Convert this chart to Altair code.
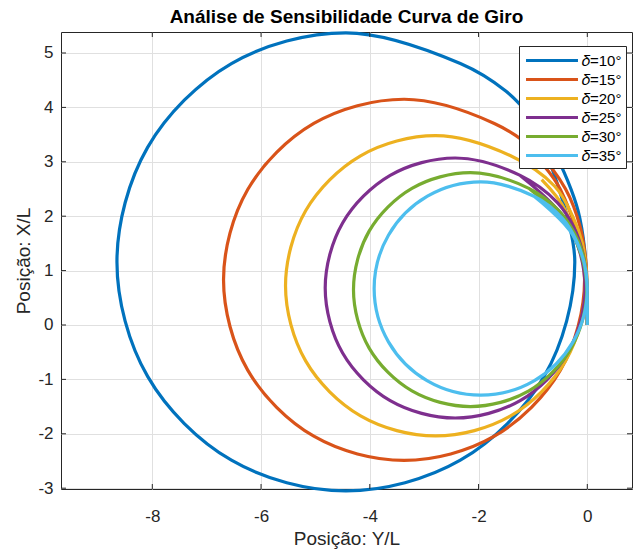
import altair as alt
import pandas as pd

# Legend entries and MATLAB default line colours
LABELS = ["𝛿=10°", "𝛿=15°", "𝛿=20°", "𝛿=25°", "𝛿=30°", "𝛿=35°"]
COLORS = ["#0072BD", "#D95319", "#EDB120", "#7E2F8E", "#77AC30", "#4DBEEE"]

X_TICKS = [-8, -6, -4, -2, 0]
Y_TICKS = [-3, -2, -1, 0, 1, 2, 3, 4, 5]

# Turning-circle trajectories: lateral position Y/L and advance X/L
Y_10 = [0, -0.01, -0.05, -0.17, -0.36, -0.62, -1.02, -1.5, -2.335, -4.44, -6.545, -8.086,
        -8.65, -8.086, -6.545, -4.44, -2.335, -0.794, -0.23, -0.794]
X_10 = [0, 0.7, 1.4, 2.1, 2.65, 3.2, 3.8, 4.3, 4.806, 5.37, 4.806, 3.265,
        1.16, -0.945, -2.486, -3.05, -2.486, -0.945, 1.16, 3.265]

Y_15 = [0, 0, -0.03, -0.13, -0.40, -0.9, -1.71, -3.37, -5.03, -6.245, -6.69, -6.245,
        -5.03, -3.37, -1.71, -0.495, -0.05, -0.495, -1.023]
X_15 = [0, 0.6, 1.2, 1.8, 2.5, 3.15, 3.705, 4.15, 3.705, 2.49, 0.83, -0.83,
        -2.045, -2.49, -2.045, -0.83, 0.83, 2.49, 3.177]

Y_20 = [0, 0, -0.02, -0.09, -0.27, -0.6, -1.41, -2.79, -4.17, -5.18, -5.55, -5.18,
        -4.17, -2.79, -1.41, -0.40, -0.03, -0.40, -0.839]
X_20 = [0, 0.5, 1.0, 1.5, 2.0, 2.55, 3.11, 3.48, 3.11, 2.10, 0.72, -0.66,
        -1.67, -2.04, -1.67, -0.66, 0.72, 2.10, 2.671]

Y_25 = [0, 0, -0.02, -0.09, -0.25, -0.55, -1.235, -2.43, -3.625, -4.50, -4.82, -4.50,
        -3.625, -2.43, -1.235, -0.36, -0.04, -0.36, -1.235]
X_25 = [0, 0.45, 0.9, 1.35, 1.8, 2.25, 2.75, 3.07, 2.75, 1.875, 0.68, -0.515,
        -1.39, -1.71, -1.39, -0.515, 0.68, 1.875, 2.75]

Y_30 = [0, 0, -0.02, -0.08, -0.24, -0.52, -1.075, -2.15, -3.225, -4.012, -4.30, -4.012,
        -3.225, -2.15, -1.075, -0.298, -0.01, -0.298, -1.075]
X_30 = [0, 0.45, 0.9, 1.3, 1.7, 2.1, 2.512, 2.80, 2.512, 1.725, 0.65, -0.425,
        -1.212, -1.50, -1.212, -0.425, 0.65, 1.725, 2.512]

Y_35 = [0, 0, -0.01, -0.06, -0.2, -0.45, -0.98, -1.96, -2.94, -3.657, -3.92, -3.657,
        -2.94, -1.96, -0.98, -0.263, 0.0, -0.263, -0.98]
X_35 = [0, 0.4, 0.8, 1.15, 1.55, 1.95, 2.367, 2.63, 2.367, 1.65, 0.67, -0.31,
        -1.027, -1.29, -1.027, -0.31, 0.67, 1.65, 2.367]

SERIES = [(LABELS[0], Y_10, X_10), (LABELS[1], Y_15, X_15), (LABELS[2], Y_20, X_20),
          (LABELS[3], Y_25, X_25), (LABELS[4], Y_30, X_30), (LABELS[5], Y_35, X_35)]

rows = []
for label, ys, xs in SERIES:
    for i, (yv, xv) in enumerate(zip(ys, xs)):
        rows.append({"serie": label, "passo": i, "Y": yv, "X": xv})
df = pd.DataFrame(rows)

FONT = "Liberation Sans"
AX = "#262626"
W, H = 571, 457
TICK = 5

x_scale = alt.Scale(domain=[-9.679, 0.822], nice=False, zero=False)
y_scale = alt.Scale(domain=[-3.015, 5.386], nice=False, zero=False)
x_axis = alt.Axis(values=X_TICKS, title="Posição: Y/L", labelExpr="datum.value + ''")
y_axis = alt.Axis(values=Y_TICKS, title="Posição: X/L", labelExpr="datum.value + ''")

lines = alt.Chart(df).mark_line(strokeWidth=3.2, interpolate="catmull-rom").encode(
    x=alt.X("Y:Q", scale=x_scale, axis=x_axis),
    y=alt.Y("X:Q", scale=y_scale, axis=y_axis),
    color=alt.Color(
        "serie:N",
        scale=alt.Scale(domain=LABELS, range=COLORS),
        legend=alt.Legend(
            title=None, orient="none", legendX=458, legendY=14, padding=4,
            fillColor="white", strokeColor=AX, cornerRadius=0,
            symbolType="M-3,0H3", symbolSize=300, symbolStrokeWidth=3.2,
            symbolOffset=18.5, labelOffset=19.5, rowPadding=0,
            labelFont="Liberation Sans, DejaVu Serif, DejaVu Sans", labelFontSize=15,
            labelColor="black", labelLimit=200,
        ),
    ),
    order=alt.Order("passo:Q"),
)

xt = pd.DataFrame({"v": X_TICKS})
yt = pd.DataFrame({"v": Y_TICKS})
tick_style = dict(color=AX, strokeWidth=1)
bottom_ticks = alt.Chart(xt).mark_rule(**tick_style).encode(
    x=alt.X("v:Q", scale=x_scale, axis=x_axis), y=alt.value(H), y2=alt.value(H - TICK))
top_ticks = alt.Chart(xt).mark_rule(**tick_style).encode(
    x=alt.X("v:Q", scale=x_scale, axis=x_axis), y=alt.value(0), y2=alt.value(TICK))
left_ticks = alt.Chart(yt).mark_rule(**tick_style).encode(
    y=alt.Y("v:Q", scale=y_scale, axis=y_axis), x=alt.value(0), x2=alt.value(TICK))
right_ticks = alt.Chart(yt).mark_rule(**tick_style).encode(
    y=alt.Y("v:Q", scale=y_scale, axis=y_axis), x=alt.value(W), x2=alt.value(W - TICK))

chart = alt.layer(lines, bottom_ticks, top_ticks, left_ticks, right_ticks).properties(
    width=W, height=H,
    autosize="none",
    padding={"left": 61, "top": 32, "right": 1, "bottom": 63},
    title=alt.TitleParams(
        "Análise de Sensibilidade Curva de Giro", font=FONT, fontSize=19,
        fontWeight="bold", color="black", anchor="middle", baseline="alphabetic",
        offset=5, dy=21,
    ),
).configure_view(
    stroke=AX, strokeWidth=1
).configure_axis(
    grid=True, gridColor="#e0e0e0", gridWidth=1, domain=False, ticks=False, tickSize=0,
    labelFont=FONT, labelFontSize=17, labelColor=AX,
    titleFont=FONT, titleFontSize=19, titleFontWeight="normal", titleColor=AX,
).configure_axisX(
    labelPadding=19, titlePadding=5
).configure_axisY(
    labelPadding=8, titlePadding=4
)

chart.save("out.html", embed_options={"renderer": "svg", "actions": False})
